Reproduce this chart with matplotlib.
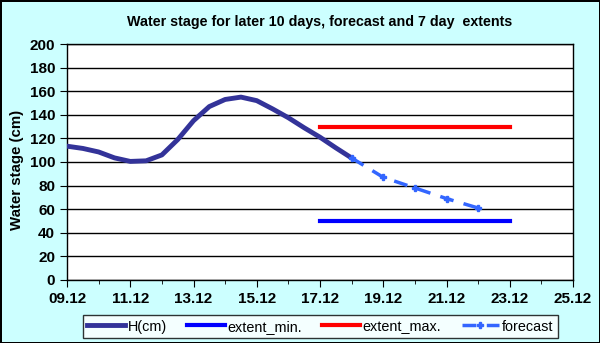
import matplotlib
matplotlib.use("Agg")
import matplotlib.pyplot as plt
from matplotlib.ticker import MultipleLocator, FuncFormatter

plt.rcParams['font.family'] = ['Liberation Sans', 'DejaVu Sans']

# observed water stage (day of December, cm)
h_days = [9.0, 9.5, 10.0, 10.5, 11.0, 11.5, 12.0, 12.5, 13.0, 13.5, 14.0,
          14.5, 15.0, 15.5, 16.0, 16.5, 17.0, 17.5, 18.0]
h_vals = [113.4, 111.5, 108.5, 103.5, 100.5, 101, 106, 119, 135, 147, 153,
          155, 152, 145, 137.5, 129, 121, 112, 103.4]

# forecast
fc_days = [18, 19, 20, 21, 22]
fc_vals = [103.4, 87, 78, 69, 61]

# 7 day extents
ext_days = [17, 23]
ext_min = [50, 50]
ext_max = [130, 130]

fig = plt.figure(figsize=(6, 3.43), dpi=100)
fig.patch.set_facecolor('#CCFFFF')
fig.patch.set_edgecolor('black')
fig.patch.set_linewidth(2)

ax = fig.add_axes([0.1117, 0.1837, 0.8433, 0.688])
ax.set_facecolor('white')

ax.plot(h_days, h_vals, color='#333399', lw=3.5, label='H(cm)', zorder=3)
ax.plot(ext_days, ext_min, color='#0000FF', lw=3, label='extent_min.', zorder=3)
ax.plot(ext_days, ext_max, color='#FF0000', lw=3, label='extent_max.', zorder=3)
ax.plot(fc_days, fc_vals, color='#3366FF', lw=2.5, ls=(0, (4, 3)),
        marker='P', ms=5, mec='#3366FF', label='forecast', zorder=4)

ax.set_xlim(9, 25)
ax.set_ylim(0, 200)
ax.set_xticks(range(9, 26, 2))
ax.xaxis.set_minor_locator(MultipleLocator(1))
ax.xaxis.set_major_formatter(FuncFormatter(lambda v, p: '%02d.12' % int(round(v))))
ax.yaxis.set_major_locator(MultipleLocator(20))
ax.grid(axis='y', color='black', lw=1)
ax.set_axisbelow(True)

ax.tick_params(axis='both', which='both', direction='out', color='black')
ax.tick_params(axis='both', which='major', length=5, labelsize=11)
ax.tick_params(axis='x', which='minor', length=3)
for lab in ax.get_xticklabels() + ax.get_yticklabels():
    lab.set_fontweight('bold')
for s in ax.spines.values():
    s.set_color('black')
    s.set_linewidth(1)

ax.set_ylabel('Water stage (cm)', fontsize=10.8, fontweight='bold', labelpad=2)
ax.yaxis.set_label_coords(-0.085, 0.465)
fig.text(0.533, 0.937, 'Water stage for later 10 days, forecast and 7 day  extents',
         ha='center', va='center', fontsize=10.3, fontweight='bold')

leg = fig.legend(loc='center', bbox_to_anchor=(0.534, 0.048), ncol=4,
                 frameon=True, fancybox=False, shadow=False, fontsize=10.4,
                 handlelength=2.6, columnspacing=1.4, handletextpad=0.2,
                 borderpad=0.3)
leg.get_frame().set_edgecolor('black')
leg.get_frame().set_linewidth(1)

fig.savefig('out.png', dpi=100, facecolor=fig.get_facecolor(), edgecolor='black')
